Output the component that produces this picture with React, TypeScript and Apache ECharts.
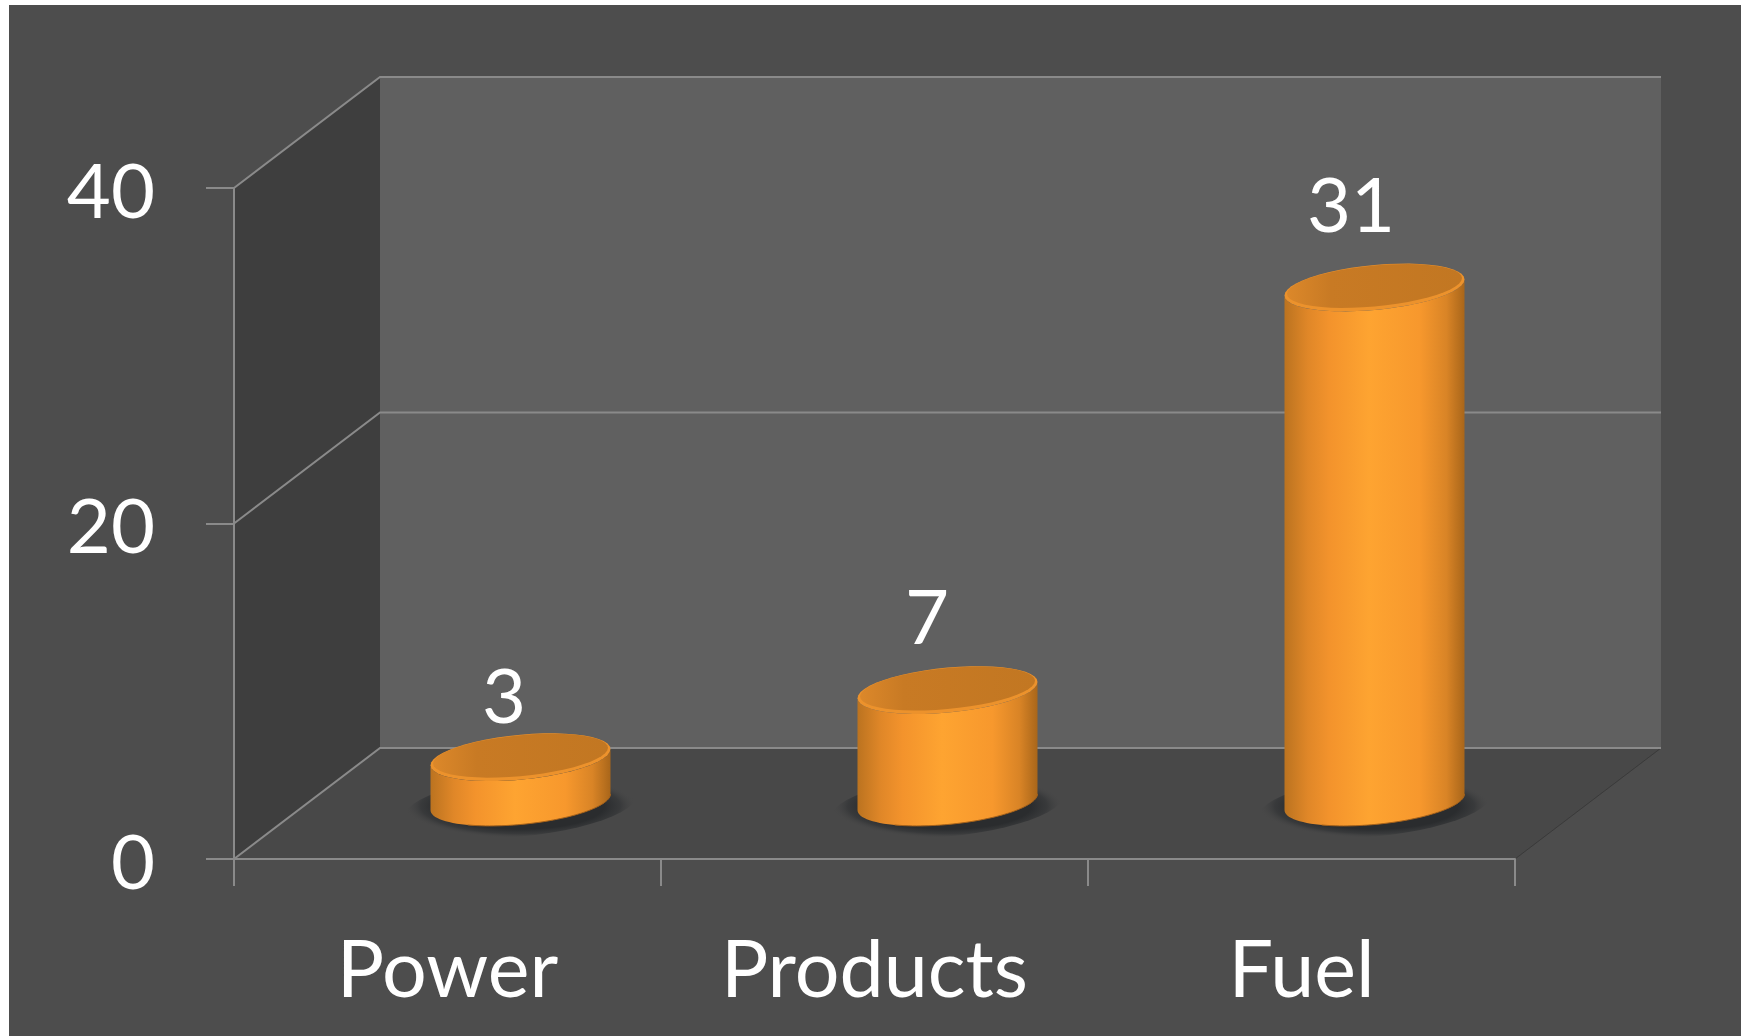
import React, { useEffect, useRef } from "react";
import * as echarts from "echarts";

const categories = ["Power", "Products", "Fuel"];
const seriesValues = [3, 7, 31];
const yTicks = [0, 20, 40];

// Layout of the pseudo-3D box and labels (pixels, not data)
const DEPTH_X = 146;
const DEPTH_Y = -111;
const CYL_SHIFT_X = 73;
const BASE_SHIFT_Y = -57;
const TOP_SHIFT_Y = -51.5;
const RX = 90;
const RY = 22.5;
const SLOPE = -0.09;
const LABEL_DX = [56.5, 52.5, 49.5];
const LABEL_DY = [-115, -127, -136];
const FONT = "Lato, Carlito, Calibri, sans-serif";
const LINE = "#8a8a8a";

function arc(cx: number, cy: number, rx: number, ry: number, t0: number, t1: number, n = 48) {
  const pts: number[][] = [];
  for (let i = 0; i <= n; i++) {
    const t = t0 + ((t1 - t0) * i) / n;
    const c = Math.cos(t);
    pts.push([cx + rx * c, cy + ry * Math.sin(t) + SLOPE * rx * c]);
  }
  return pts;
}

const grad = (stops: [number, string][]) => ({
  type: "linear",
  x: 0,
  y: 0,
  x2: 1,
  y2: 0,
  colorStops: stops.map(([offset, color]) => ({ offset, color })),
});

function renderWalls(_: any, api: any) {
  const band = api.size([1, 0])[0];
  const c0 = api.coord([0, 0]);
  const left = c0[0] - band / 2;
  const right = left + band * categories.length;
  const y0 = c0[1];
  const yTop = api.coord([0, yTicks[yTicks.length - 1]])[1];
  const children: any[] = [
    {
      type: "polygon",
      shape: { points: [[left + DEPTH_X, yTop + DEPTH_Y], [right + DEPTH_X, yTop + DEPTH_Y], [right + DEPTH_X, y0 + DEPTH_Y], [left + DEPTH_X, y0 + DEPTH_Y]] },
      style: { fill: "#606060" },
    },
    {
      type: "polygon",
      shape: { points: [[left, yTop], [left + DEPTH_X, yTop + DEPTH_Y], [left + DEPTH_X, y0 + DEPTH_Y], [left, y0]] },
      style: { fill: "#3e3e3e" },
    },
    {
      type: "polygon",
      shape: { points: [[left, y0], [left + DEPTH_X, y0 + DEPTH_Y], [right + DEPTH_X, y0 + DEPTH_Y], [right, y0]] },
      style: { fill: "#484848" },
    },
    {
      type: "line",
      shape: { x1: right, y1: y0, x2: right + DEPTH_X, y2: y0 + DEPTH_Y },
      style: { stroke: "#3a3a3a", lineWidth: 1 },
    },
  ];
  yTicks.forEach((v) => {
    const y = api.coord([0, v])[1];
    children.push({
      type: "polyline",
      shape: { points: [[left, y], [left + DEPTH_X, y + DEPTH_Y], [right + DEPTH_X, y + DEPTH_Y]] },
      style: { stroke: LINE, lineWidth: 2, fill: "none" },
    });
  });
  return { type: "group", children };
}

function renderCylinder(_: any, api: any) {
  const idx = api.value(0);
  const val = api.value(1);
  const floor = api.coord([idx, 0]);
  const top = api.coord([idx, val]);
  const cx = floor[0] + CYL_SHIFT_X;
  const baseY = floor[1] + BASE_SHIFT_Y;
  const topY = top[1] + TOP_SHIFT_Y;
  const side = [
    ...arc(cx, baseY, RX, RY, 0, Math.PI),
    ...arc(cx, topY, RX, RY, Math.PI, 0),
  ];
  return {
    type: "group",
    children: [
      {
        type: "polygon",
        shape: { points: arc(cx, baseY + 4, RX + 26, RY + 8, 0, Math.PI * 2) },
        style: {
          fill: {
            type: "radial",
            x: 0.5,
            y: 0.5,
            r: 0.5,
            colorStops: [
              { offset: 0, color: "rgba(42,44,46,1)" },
              { offset: 0.72, color: "rgba(42,44,46,1)" },
              { offset: 0.86, color: "rgba(48,50,52,0.65)" },
              { offset: 1, color: "rgba(72,72,72,0)" },
            ],
          },
        },
      },
      {
        type: "polygon",
        shape: { points: side },
        style: {
          fill: grad([
            [0, "#bb7320"],
            [0.13, "#e08728"],
            [0.25, "#f3932c"],
            [0.47, "#fea431"],
            [0.75, "#f7982d"],
            [0.9, "#d98426"],
            [1, "#a9661a"],
          ]),
        },
      },
      {
        type: "polyline",
        shape: { points: arc(cx, baseY, RX, RY, 0, Math.PI * 0.7) },
        style: { stroke: "#a5611a", lineWidth: 1, fill: "none" },
      },
      {
        type: "polygon",
        shape: { points: arc(cx, topY, RX, RY, 0, Math.PI * 2) },
        style: { fill: "#ec922c" },
      },
      {
        type: "polygon",
        shape: { points: arc(cx, topY - 1.5, RX - 2.5, RY - 2, 0, Math.PI * 2) },
        style: {
          fill: grad([
            [0, "#dc882a"],
            [0.25, "#c87a24"],
            [1, "#c27722"],
          ]),
        },
      },
      {
        type: "text",
        x: top[0] + LABEL_DX[idx],
        y: top[1] + LABEL_DY[idx],
        style: {
          text: String(val),
          fill: "#ffffff",
          font: `76px ${FONT}`,
          textAlign: "center",
          textVerticalAlign: "middle",
        },
      },
    ],
  };
}

export default function App() {
  const ref = useRef<HTMLDivElement>(null);
  useEffect(() => {
    if (!ref.current) return;
    const chart = echarts.init(ref.current, undefined, { renderer: "svg" });
    chart.setOption({
      animation: false,
      backgroundColor: "#ffffff",
      graphic: {
        elements: [
          {
            type: "rect",
            z: -10,
            silent: true,
            shape: { x: 9, y: 5, width: 1732, height: 1031 },
            style: { fill: "#4d4d4d" },
          },
        ],
      },
      grid: { left: 234, right: 226, top: 188, height: 671, containLabel: false },
      xAxis: {
        type: "category",
        data: categories,
        z: 5,
        axisLine: { lineStyle: { color: LINE, width: 2 } },
        axisTick: { show: true, length: 27, alignWithLabel: false, lineStyle: { color: LINE, width: 2 } },
        axisLabel: { color: "#ffffff", fontFamily: FONT, fontSize: 79, margin: 68, interval: 0 },
      },
      yAxis: {
        type: "value",
        min: 0,
        max: 40,
        interval: 20,
        z: 5,
        splitLine: { show: false },
        axisLine: { show: true, lineStyle: { color: LINE, width: 2 } },
        axisTick: { show: true, length: 28, lineStyle: { color: LINE, width: 2 } },
        axisLabel: { color: "#ffffff", fontFamily: FONT, fontSize: 76, margin: 79 },
      },
      series: [
        {
          type: "custom",
          z: 1,
          silent: true,
          renderItem: renderWalls,
          data: [[0, 0]],
          encode: { x: 0, y: 1 },
        },
        {
          type: "custom",
          z: 3,
          silent: true,
          renderItem: renderCylinder,
          data: seriesValues.map((v, i) => [i, v]),
          encode: { x: 0, y: 1 },
        },
      ],
    });
    return () => chart.dispose();
  }, []);
  return (
    <div style={{ position: "fixed", left: 0, top: 0, width: 1741, height: 1036, overflow: "hidden" }}>
      <div ref={ref} style={{ width: 1741, height: 1036 }} />
    </div>
  );
}
